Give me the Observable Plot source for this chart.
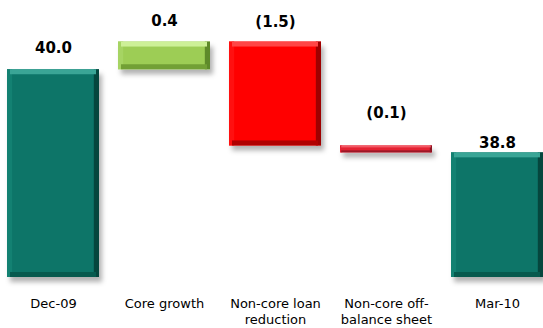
<!DOCTYPE html>
<html><head><meta charset="utf-8">
<script src="https://cdn.jsdelivr.net/npm/d3@7"></script>
<script src="https://cdn.jsdelivr.net/npm/@observablehq/plot@0.6"></script>
<style>body{margin:0;background:#fff}</style>
</head><body><div id="chart"></div>
<script>
// ---- data ----
const categories = ["Dec-09", "Core growth", "Non-core loan reduction", "Non-core off-balance sheet", "Mar-10"];
const tickLabels = ["Dec-09", "Core growth", "Non-core loan\nreduction", "Non-core off-\nbalance sheet", "Mar-10"];
const values = [40.0, 0.4, -1.5, -0.1, 38.8];
const kinds = ["total", "increase", "decrease", "decrease", "total"];
const valueLabels = ["40.0", "0.4", "(1.5)", "(0.1)", "38.8"];

// ---- styles ----
const yFloor = 37;
const palette = [
  {cFace: "#0b7567", cLeft: "#138172", cTop: "#3aa596", cRight: "#05463d", cBottom: "#075a4e"},
  {cFace: "#9dcd55", cLeft: "#a6d463", cTop: "#cdf097", cRight: "#5e8a2a", cBottom: "#72a035"},
  {cFace: "#ff0000", cLeft: "#ff1010", cTop: "#ff4646", cRight: "#9e0000", cBottom: "#b00000"},
  {cFace: "#e42233", cLeft: "#e42233", cTop: "#f35a66", cRight: "#8c1422", cBottom: "#9a1827"},
  {cFace: "#0b7567", cLeft: "#138172", cTop: "#3aa596", cRight: "#05463d", cBottom: "#075a4e"}
];
const labelDy = [-17, -16, -15, -28, -5];

// ---- waterfall rows ----
let running = 0;
const rows = categories.map((c, i) => {
  let y1, y2;
  if (kinds[i] === "total") { y1 = yFloor; y2 = values[i]; running = values[i]; }
  else { y1 = running; y2 = running + values[i]; running = y2; }
  return {cat: c, tick: tickLabels[i], y1, y2, hi: Math.max(y1, y2), lo: Math.min(y1, y2), label: valueLabels[i], ...palette[i]};
});

const padInner = 0.175;
const bw = (537 / (categories.length - padInner)) * (1 - padInner);

function bevelMarks(data, b) {
  return [
    Plot.rectY(data, {x: "cat", y1: "y1", y2: "y2", fill: "cLeft", insetRight: bw - b}),
    Plot.rectY(data, {x: "cat", y1: "y1", y2: "y2", fill: "cRight", insetLeft: bw - b}),
    Plot.rectY(data, {x: "cat", y1: "hi", y2: "hi", fill: "cTop", insetBottom: -b, insetLeft: b * 0.6, insetRight: b * 0.6}),
    Plot.rectY(data, {x: "cat", y1: "lo", y2: "lo", fill: "cBottom", insetTop: -b, insetLeft: b * 0.6, insetRight: b * 0.6})
  ];
}

const big = rows.filter(r => r.hi - r.lo > 0.2);
const thin = rows.filter(r => r.hi - r.lo <= 0.2);

const chart = Plot.plot({
  width: 543, height: 328,
  marginTop: 0, marginBottom: 51, marginLeft: 6, marginRight: 0,
  x: {domain: categories, paddingInner: padInner, paddingOuter: 0, axis: null},
  y: {domain: [yFloor, 41], axis: null},
  color: {type: "identity"},
  style: {fontFamily: "DejaVu Sans, sans-serif", background: "#fff"},
  marks: [
    Plot.rectY(rows, {x: "cat", y1: "y1", y2: "y2", fill: "cFace"}),
    ...bevelMarks(big, 5),
    ...bevelMarks(thin, 2),
    ...rows.map((r, i) => Plot.text([r], {x: "cat", y: "hi", text: "label", lineAnchor: "bottom", dy: labelDy[i], fontSize: 15, fontWeight: "bold", fill: "#000"})),
    Plot.text(rows, {x: "cat", text: "tick", frameAnchor: "bottom", lineAnchor: "top", dy: 18.5, fontSize: 13, lineHeight: 1.27, fill: "#000"})
  ]
});

// drop shadow under the bars
const svg = d3.select(chart);
const defs = svg.insert("defs", ":first-child");
const f = defs.append("filter").attr("id", "barShadow").attr("x", "-20%").attr("y", "-20%").attr("width", "140%").attr("height", "180%");
f.append("feDropShadow").attr("dx", 3).attr("dy", 5).attr("stdDeviation", 2.5).attr("flood-color", "#000").attr("flood-opacity", 0.3);
svg.select('g[aria-label="rect"]').attr("filter", "url(#barShadow)");

document.getElementById("chart").appendChild(chart);
</script>
</body></html>
